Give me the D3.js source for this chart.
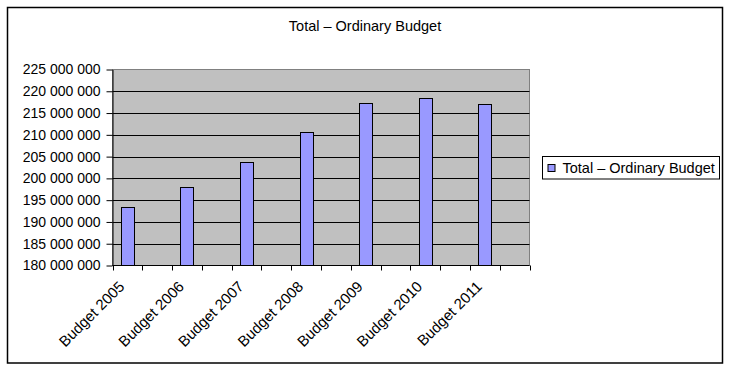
<!DOCTYPE html>
<html>
<head>
<meta charset="utf-8">
<script src="https://cdn.jsdelivr.net/npm/d3@7"></script>
<style>
  body { margin: 0; background: #fff; }
  svg { display: block; font-family: "Liberation Sans", Arial, sans-serif; }
</style>
</head>
<body>
<script>
// chart data
const title = "Total – Ordinary Budget";
const seriesName = "Total – Ordinary Budget";
const categories = ["Budget 2005", "", "Budget 2006", "", "Budget 2007", "", "Budget 2008", "",
  "Budget 2009", "", "Budget 2010", "", "Budget 2011", ""];
const values = [193400000, null, 198000000, null, 203700000, null, 210600000, null,
  217300000, null, 218400000, null, 217050000, null];
const yTicks = [180000000, 185000000, 190000000, 195000000, 200000000, 205000000,
  210000000, 215000000, 220000000, 225000000];

const width = 731, height = 371;
const plotLeft = 112.5, plotRight = 529.5, plotTop = 69.5, plotBottom = 265.5;

const fmt = d3.formatLocale({ decimal: ".", thousands: " ", grouping: [3], currency: ["", ""] }).format(",");

const x = d3.scaleBand().domain(d3.range(categories.length)).range([plotLeft, plotRight]).padding(0);
const y = d3.scaleLinear().domain([180000000, 225000000]).range([plotBottom, plotTop]);

const svg = d3.select("body").append("svg")
  .attr("width", width)
  .attr("height", height)
  .attr("viewBox", [0, 0, width, height]);

// outer chart border
svg.append("rect")
  .attr("x", 7.5).attr("y", 7.5)
  .attr("width", 715).attr("height", 355.5)
  .attr("fill", "#fff").attr("stroke", "#000").attr("stroke-width", 1.5);

svg.append("text")
  .attr("x", 365).attr("y", 31)
  .attr("text-anchor", "middle")
  .attr("font-size", 14.5)
  .text(title);

// plot area
svg.append("rect")
  .attr("x", plotLeft).attr("y", plotTop)
  .attr("width", plotRight - plotLeft).attr("height", plotBottom - plotTop)
  .attr("fill", "#c0c0c0").attr("stroke", "#808080");

// gridlines
svg.append("g")
  .selectAll("line")
  .data(yTicks.slice(1, -1))
  .join("line")
  .attr("x1", plotLeft).attr("x2", plotRight)
  .attr("y1", d => Math.round(y(d)) + 0.5).attr("y2", d => Math.round(y(d)) + 0.5)
  .attr("stroke", "#000");

// bars
const barW = Math.round(x.bandwidth() * 0.44);
svg.append("g")
  .selectAll("rect")
  .data(d3.range(categories.length).filter(i => values[i] != null))
  .join("rect")
  .attr("x", i => Math.round(x(i) + (x.bandwidth() - barW) / 2) + 0.5)
  .attr("y", i => Math.round(y(values[i])) + 0.5)
  .attr("width", barW)
  .attr("height", i => plotBottom - Math.round(y(values[i])) - 0.5)
  .attr("fill", "#9999ff")
  .attr("stroke", "#000");

// y axis
svg.append("g")
  .attr("transform", `translate(${plotLeft},0)`)
  .call(d3.axisLeft(y).tickValues(yTicks).tickFormat(fmt).tickSize(6).tickPadding(6).tickSizeOuter(0))
  .call(g => g.selectAll("text").attr("font-size", 14).attr("fill", "#000").attr("font-family", null))
  .call(g => g.selectAll("line,path").attr("stroke", "#000"));

// x axis: ticks at category edges, labels rotated
const xg = svg.append("g").attr("transform", `translate(0,${plotBottom})`);
xg.append("line")
  .attr("x1", plotLeft).attr("x2", plotRight)
  .attr("stroke", "#000");
xg.selectAll(".edge")
  .data(d3.range(categories.length + 1))
  .join("line")
  .attr("class", "edge")
  .attr("x1", i => Math.round(i < categories.length ? x(i) : plotRight) + 0.5)
  .attr("x2", i => Math.round(i < categories.length ? x(i) : plotRight) + 0.5)
  .attr("y1", 0).attr("y2", 5)
  .attr("stroke", "#000");
xg.selectAll(".lbl")
  .data(d3.range(categories.length))
  .join("text")
  .attr("class", "lbl")
  .attr("text-anchor", "end")
  .attr("font-size", 15)
  .attr("transform", i => `translate(${x(i) + x.bandwidth() / 2 - 2},${22}) rotate(-45)`)
  .text(i => categories[i]);

// legend
const lg = svg.append("g").attr("transform", "translate(542.5,156.5)");
lg.append("rect")
  .attr("width", 177).attr("height", 22.5)
  .attr("fill", "#fff").attr("stroke", "#000");
lg.append("rect")
  .attr("x", 5.5).attr("y", 8)
  .attr("width", 7).attr("height", 7)
  .attr("fill", "#9999ff").attr("stroke", "#000");
lg.append("text")
  .attr("x", 20).attr("y", 16.5)
  .attr("font-size", 14.5)
  .text(seriesName);
</script>
</body>
</html>
